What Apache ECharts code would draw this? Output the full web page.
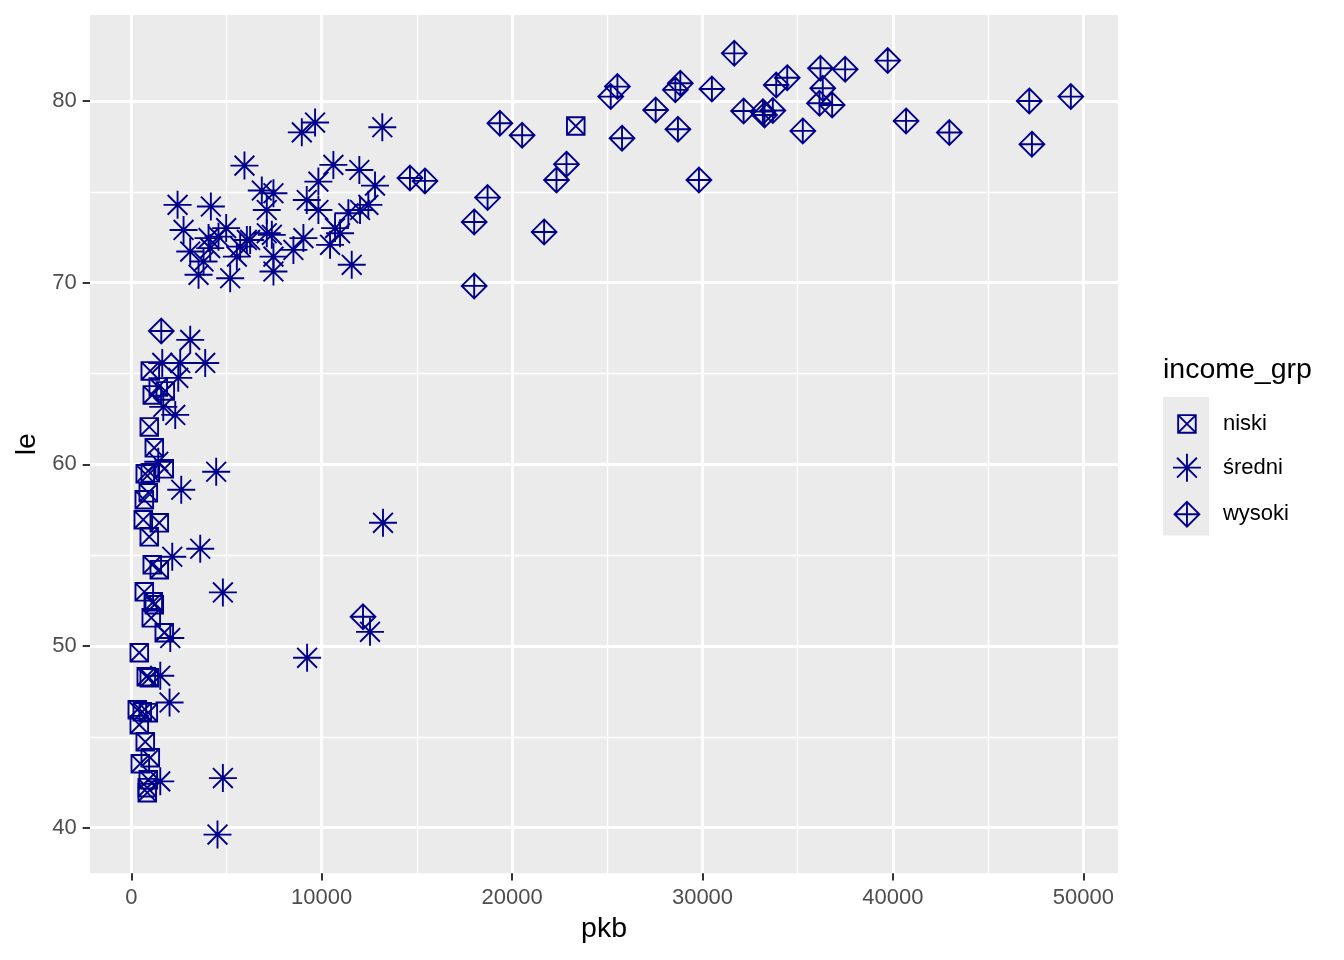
<!DOCTYPE html>
<html>
<head>
<meta charset="utf-8">
<script src="https://cdn.jsdelivr.net/npm/echarts@6/dist/echarts.min.js"></script>
<style>
  html, body { margin: 0; padding: 0; background: #fff; }
  #main { width: 1344px; height: 960px; }
</style>
</head>
<body>
<div id="main"></div>
<script>
var groups = ['niski', 'średni', 'wysoki'];

var niskiPkb = [23344, 997, 1416, 1784, 1102, 944, 1207, 734, 997, 1731, 892, 682, 629, 1469, 944, 1102, 1469, 682, 1154, 1207, 1049, 1731, 420, 787, 944, 315, 577, 892, 420, 734, 997, 472, 892, 839, 839];
var niskiLe = [78.62, 65.14, 64.26, 64.04, 63.82, 62.06, 60.91, 59.48, 59.53, 59.75, 58.43, 58.05, 56.95, 56.78, 56.01, 54.47, 54.2, 52.98, 52.43, 52.27, 51.55, 50.73, 49.63, 48.31, 48.25, 46.49, 46.38, 46.33, 45.67, 44.73, 43.85, 43.52, 42.64, 42.2, 41.93];

var sredniPkb = [4527, 4810, 1521, 2009, 1521, 9233, 12537, 2046, 4810, 2151, 3620, 13219, 2623, 4459, 1416, 2308, 1679, 2466, 1626, 2570, 3882, 3095,
  9652, 8955, 13183, 5943, 10613, 11976, 9826, 12800, 6854, 7466, 9215, 9826, 7116, 2430, 4179, 12450, 12013, 11400, 2745, 4983, 4057, 4580, 6069, 7116, 7381, 9040, 10701, 10964, 10439, 3095, 4144, 5718, 6242, 8514, 3793, 5544, 7466, 11577, 3532, 5193, 7466];
var sredniLe = [39.62, 42.73, 42.55, 46.89, 48.36, 49.35, 50.78, 50.44, 52.95, 54.91, 55.35, 56.78, 58.6, 59.59, 60.14, 62.72, 63.16, 64.76, 65.58, 65.58, 65.58, 66.85,
  78.81, 78.27, 78.55, 76.44, 76.48, 76.2, 75.56, 75.34, 75.07, 74.92, 74.55, 74.0, 74.0, 74.28, 74.19, 74.28, 74.0, 73.82, 72.9, 73.0, 72.45, 72.53, 72.35, 72.72, 72.63, 72.45, 73.0, 72.72, 72.08, 71.71, 71.9, 71.98, 72.35, 71.8, 71.16, 71.43, 71.43, 70.98, 70.43, 70.24, 70.61];

var wysokiPkb = [1574, 12170, 18009, 18009, 18712, 14636, 15423, 19357, 20527, 21681, 22331, 22856, 25531, 25180, 25773, 27541, 28836, 28574, 28710, 30494, 29812, 31669, 32157, 33170, 33258, 33694, 33873, 34449, 35267, 36196, 36316, 36144, 36809, 37491, 39727, 40690, 42963, 47160, 49346, 47301];
var wysokiLe = [67.34, 51.61, 69.82, 73.34, 74.68, 75.76, 75.6, 78.77, 78.11, 72.79, 75.65, 76.52, 80.79, 80.24, 77.95, 79.5, 80.97, 80.61, 78.44, 80.66, 75.65, 82.62, 79.45, 79.41, 79.23, 79.47, 80.88, 81.28, 78.35, 81.8, 80.7, 79.87, 79.78, 81.74, 82.22, 78.9, 78.26, 80.0, 80.24, 77.62];

var xMajor = [0, 10000, 20000, 30000, 40000, 50000];
var xMinor = [5000, 15000, 25000, 35000, 45000];
var yMajor = [40, 50, 60, 70, 80];
var yMinor = [45, 55, 65, 75];

var col = '#00008B';
var font = "'Liberation Sans', Arial, sans-serif";

// ggplot shapes 7, 8, 9
var shapes = [
  { path: 'path://M0,0L17.6,0L17.6,17.6L0,17.6ZM0,0L17.6,17.6M17.6,0L0,17.6', size: 17.6 },
  { path: 'path://M14,0L14,28M0,14L28,14M4.1,4.1L23.9,23.9M23.9,4.1L4.1,23.9', size: 28 },
  { path: 'path://M12.4,0L24.8,12.4L12.4,24.8L0,12.4ZM12.4,0L12.4,24.8M0,12.4L24.8,12.4', size: 24.8 }
];

function pairs(xs, ys) {
  return xs.map(function (x, i) { return [x, ys[i]]; });
}
var values = [pairs(niskiPkb, niskiLe), pairs(sredniPkb, sredniLe), pairs(wysokiPkb, wysokiLe)];

var xMin = -2169, xMax = 51822, yMin = 37.49, yMax = 84.73;

var series = groups.map(function (g, i) {
  return {
    name: g,
    type: 'scatter',
    xAxisIndex: 0,
    yAxisIndex: 0,
    symbol: shapes[i].path,
    symbolSize: shapes[i].size,
    symbolKeepAspect: true,
    itemStyle: { color: 'rgba(0,0,0,0)', borderColor: col, borderWidth: 1.9, opacity: 1 },
    emphasis: { disabled: true },
    z: 3,
    data: values[i]
  };
});

// one legend per shape so each key keeps its own size
var keyCenters = [421.7, 466.7, 513.3];
var legends = groups.map(function (g, i) {
  var s = shapes[i].size;
  return {
    data: [{ name: g, icon: shapes[i].path,
      itemStyle: { color: 'rgba(0,0,0,0)', borderColor: col, borderWidth: 1.9 } }],
    orient: 'vertical',
    left: 1186 - s / 2,
    top: keyCenters[i] - s / 2,
    padding: 0,
    itemWidth: s,
    itemHeight: s,
    selectedMode: false,
    textStyle: { fontFamily: font, fontSize: 22, color: '#000', padding: [0, 0, 0, 1222 - (1186 + s / 2 + 5)] }
  };
});

function plain(v) { return String(v); }

var chartDom = document.getElementById('main');
var myChart = echarts.init(chartDom);
var option;

option = {
  animation: false,
  backgroundColor: '#fff',
  textStyle: { fontFamily: font },
  grid: {
    left: 90, top: 15, right: 226, bottom: 86.7,
    show: true, backgroundColor: '#EBEBEB', borderWidth: 0
  },
  legend: legends,
  graphic: [
    { type: 'rect', left: 1163, top: 397, shape: { width: 46, height: 138.5 }, style: { fill: '#EBEBEB' }, z: -1 },
    { type: 'text', left: 1163, top: 356, style: { text: 'income_grp', fontFamily: font, fontSize: 28.5, fill: '#000' } }
  ],
  xAxis: [
    {
      type: 'value', min: xMin, max: xMax, position: 'bottom',
      name: 'pkb', nameLocation: 'middle', nameGap: 41,
      nameTextStyle: { fontFamily: font, fontSize: 28.5, color: '#000' },
      axisLine: { show: false, onZero: false },
      axisTick: { show: true, length: 7.3, customValues: xMajor, lineStyle: { color: '#333', width: 2 } },
      axisLabel: { customValues: xMajor, formatter: plain, margin: 13.2, color: '#4D4D4D', fontSize: 22, fontFamily: font },
      splitLine: { show: true, lineStyle: { color: '#fff', width: 2.8 } }
    },
    {
      type: 'value', min: xMin, max: xMax, position: 'bottom',
      axisLine: { show: false, onZero: false },
      axisTick: { show: false, customValues: xMinor },
      axisLabel: { show: false, customValues: xMinor },
      splitLine: { show: true, lineStyle: { color: '#fff', width: 1.4 } }
    }
  ],
  yAxis: [
    {
      type: 'value', min: yMin, max: yMax, position: 'left',
      name: 'le', nameLocation: 'middle', nameGap: 48, nameRotate: 90,
      nameTextStyle: { fontFamily: font, fontSize: 28.5, color: '#000' },
      axisLine: { show: false, onZero: false },
      axisTick: { show: true, length: 7.3, customValues: yMajor, lineStyle: { color: '#333', width: 2 } },
      axisLabel: { customValues: yMajor, formatter: plain, margin: 13.2, color: '#4D4D4D', fontSize: 22, fontFamily: font },
      splitLine: { show: true, lineStyle: { color: '#fff', width: 2.8 } }
    },
    {
      type: 'value', min: yMin, max: yMax, position: 'left',
      axisLine: { show: false, onZero: false },
      axisTick: { show: false, customValues: yMinor },
      axisLabel: { show: false, customValues: yMinor },
      splitLine: { show: true, lineStyle: { color: '#fff', width: 1.4 } }
    }
  ],
  series: series
};

option && myChart.setOption(option);
</script>
</body>
</html>
